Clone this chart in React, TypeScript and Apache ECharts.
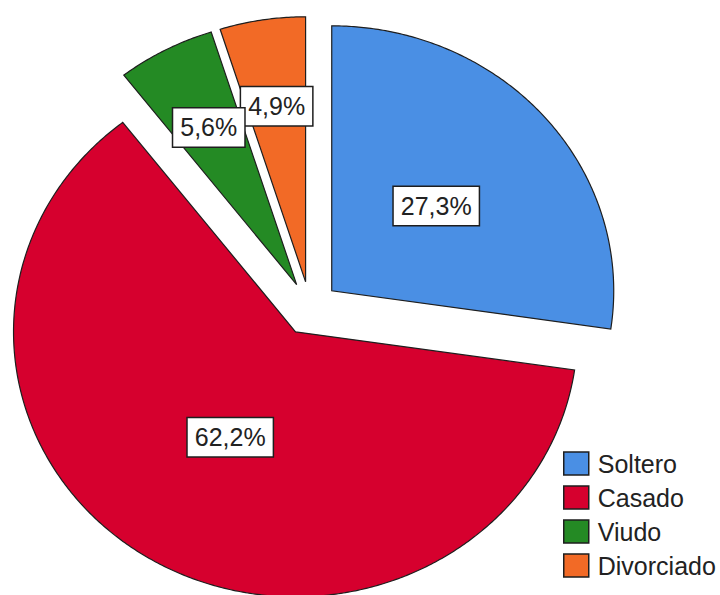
import React, { useEffect, useRef } from "react";
import * as echarts from "echarts";

// ---- data ----
const categories = ["Soltero", "Casado", "Viudo", "Divorciado"];
const percentages = [27.3, 62.2, 5.6, 4.9];
const colors = ["#4A8FE4", "#D6002E", "#248A24", "#F26A26"];
// label placement (fraction of the radius along each slice bisector)
const labelRadiusFraction = [0.49, 0.46, 0.67, 0.67];

// ---- layout (elliptical exploded pie) ----
const CX = 310;
const CY = 308.5;
const RX = 282;
const RY = 265;
const EXPLODE = 27;
const SX = RX / RY;
const FONT = "'Liberation Sans', Arial, sans-serif";

const total = percentages.reduce((a, b) => a + b, 0);

const fmt = (v: number) => v.toFixed(1).replace(".", ",") + "%";

const makeRenderItem = (i: number) => (params: any, api: any) => {
  let start = 0;
  for (let j = 0; j < i; j++) start += percentages[j];
  const v = api.value(0);
  const a0 = (start / total) * Math.PI * 2;
  const a1 = ((start + v) / total) * Math.PI * 2;
  const mid = (a0 + a1) / 2;
  const tx = CX + EXPLODE * SX * Math.sin(mid);
  const ty = CY - EXPLODE * Math.cos(mid);
  const points: number[][] = [[tx, ty]];
  const steps = Math.max(8, Math.ceil((a1 - a0) / (Math.PI / 360)));
  for (let k = 0; k <= steps; k++) {
    const t = a0 + ((a1 - a0) * k) / steps;
    points.push([tx + RX * Math.sin(t), ty - RY * Math.cos(t)]);
  }
  const f = labelRadiusFraction[i];
  const lx = tx + f * RX * Math.sin(mid);
  const ly = ty - f * RY * Math.cos(mid);
  return {
    type: "group",
    children: [
      {
        type: "polygon",
        shape: { points },
        style: { fill: api.visual("color"), stroke: "#1e1e1e", lineWidth: 1.2 },
      },
      {
        type: "text",
        x: lx,
        y: ly,
        z2: 100 + (categories.length - i),
        style: {
          text: fmt(v),
          fill: "#222",
          fontSize: 25,
          fontFamily: FONT,
          align: "center",
          verticalAlign: "middle",
          lineHeight: 27,
          backgroundColor: "#ffffff",
          borderColor: "#1e1e1e",
          borderWidth: 1.5,
          padding: [6, 7, 5, 7],
        },
      },
    ],
  };
};

export default function App() {
  const ref = useRef<HTMLDivElement>(null);
  useEffect(() => {
    if (!ref.current) return;
    const chart = echarts.init(ref.current, undefined, { renderer: "svg" });
    chart.setOption({
      animation: false,
      backgroundColor: "#ffffff",
      legend: {
        orient: "vertical",
        left: 563,
        top: 451,
        padding: 0,
        itemWidth: 25,
        itemHeight: 23,
        itemGap: 9,
        icon: "rect",
        selectedMode: false,
        data: categories,
        itemStyle: { borderColor: "#1e1e1e", borderWidth: 1.5 },
        textStyle: {
          fontSize: 25,
          fontFamily: FONT,
          color: "#222",
          lineHeight: 23,
          padding: [0, 0, 0, 4],
        },
      },
      series: categories.map((name, i) => ({
        type: "custom",
        name,
        coordinateSystem: "none",
        itemStyle: { color: colors[i] },
        data: [percentages[i]],
        renderItem: makeRenderItem(i),
      })),
    });
    return () => chart.dispose();
  }, []);
  return (
    <div
      ref={ref}
      style={{ position: "absolute", left: 0, top: 0, width: 720, height: 595 }}
    />
  );
}
